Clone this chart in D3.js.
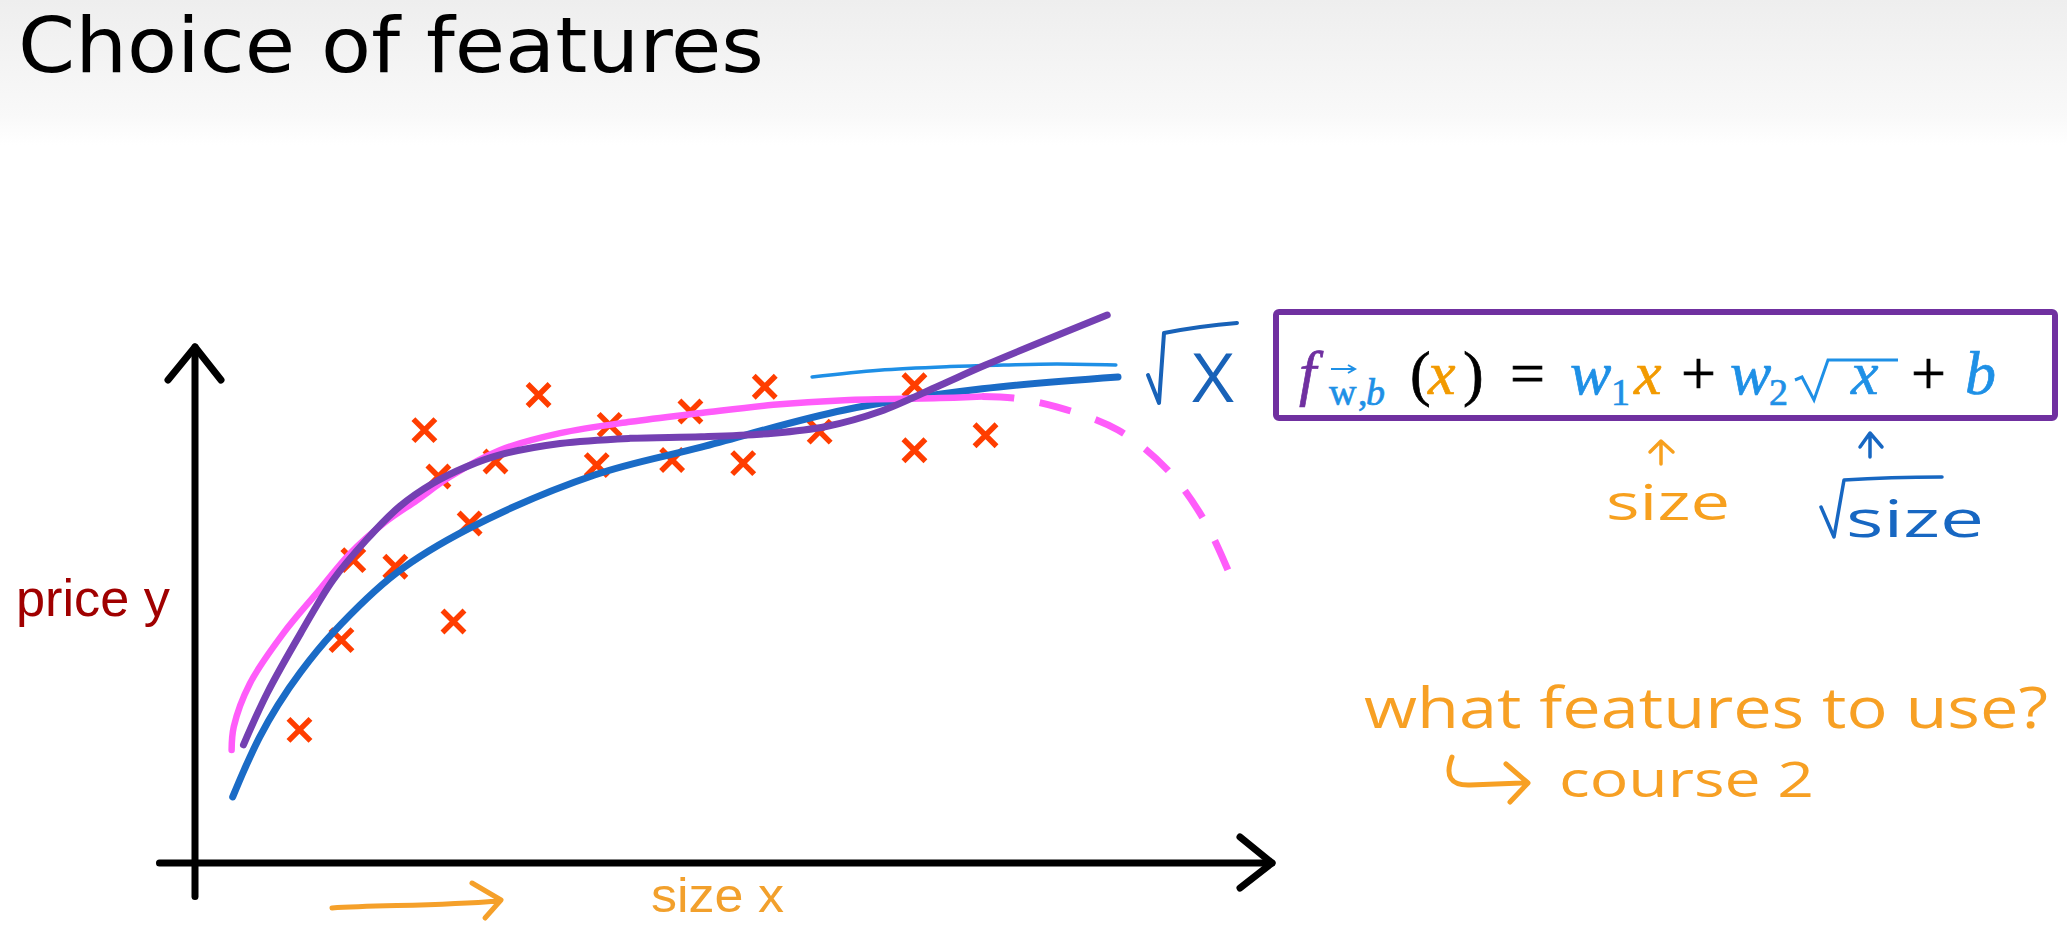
<html lang="en">
<head>
<meta charset="utf-8">
<title>Choice of features</title>
<style>
  body { margin: 0; background: #ffffff; }
  svg { display: block; }
  .hand { font-family: "Open Sans", "Noto Sans", sans-serif; }
  .math { font-family: "Liberation Serif", "DejaVu Serif", serif; }
</style>
</head>
<body>
<div id="chart"></div>
<script src="https://cdn.jsdelivr.net/npm/d3@7"></script>
<script>
// data (size x in 0..100, price y in 0..100)
var crossX = [9.7, 13.6, 14.7, 18.6, 24.0, 21.3, 22.6, 25.5, 27.9, 31.9, 37.3, 38.5, 44.3, 46.0, 50.9, 52.9, 58.0, 66.8, 66.8, 73.4];
var crossY = [25.8, 43.2, 58.7, 57.4, 46.8, 83.9, 74.9, 65.8, 77.8, 90.7, 77.1, 84.9, 78.1, 87.5, 77.5, 92.3, 83.6, 80.0, 92.6, 82.9];

// w1*x + w2*sqrt(x) + b fit (blue)
var sqrtFit = [[3.5, 12.8], [4.6, 18.2], [6.0, 24.4], [7.7, 30.6], [9.8, 37.0], [12.8, 44.6], [18.7, 56.2],
               [25.5, 64.9], [37.1, 75.2], [47.0, 80.6], [60.3, 87.8], [73.1, 91.9], [85.7, 94.2]];
// quadratic fit (pink), solid part and dashed downturn
var quadFit = [[3.4, 21.9], [3.6, 26.4], [5.1, 34.8], [8.2, 44.5], [11.3, 52.3], [14.4, 60.0], [17.5, 65.8],
               [20.6, 70.3], [23.7, 74.9], [28.3, 80.0], [33.9, 83.3], [40.4, 85.5], [47.0, 87.2], [53.7, 88.8],
               [60.3, 89.7], [69.2, 90.1], [73.1, 90.4]];
var quadDash = [[73.1, 90.4], [76.0, 90.1], [80.0, 88.4], [85.7, 83.9], [90.3, 76.2], [93.8, 66.1], [96.3, 54.8]];
// cubic fit (purple)
var cubicFit = [[4.5, 22.9], [6.7, 32.9], [9.8, 44.5], [12.8, 54.8], [15.9, 62.6], [19.0, 69.1], [22.1, 73.6],
                [25.2, 76.8], [28.3, 79.1], [33.9, 81.3], [40.4, 82.3], [47.0, 82.6], [53.7, 83.3], [58.6, 84.6],
                [63.6, 87.5], [69.2, 92.6], [73.4, 96.5], [84.7, 106.2]];
// hand drawn sqrt(x) stroke (light blue)
var sqrtStroke = [[57.3, 94.2], [63.5, 95.5], [70.1, 96.2], [75.1, 96.5], [80.0, 96.7], [85.5, 96.5]];

var width = 2067, height = 927;

var svg = d3.select("#chart").append("svg")
    .attr("width", width)
    .attr("height", height);

var defs = svg.append("defs");
var grad = defs.append("linearGradient").attr("id", "topband")
    .attr("x1", 0).attr("y1", 0).attr("x2", 0).attr("y2", 1);
grad.append("stop").attr("offset", "0%").attr("stop-color", "#eeeeee");
grad.append("stop").attr("offset", "80%").attr("stop-color", "#f9f9f9");
grad.append("stop").attr("offset", "100%").attr("stop-color", "#ffffff");

svg.append("rect").attr("width", width).attr("height", height).attr("fill", "#ffffff");
svg.append("rect").attr("width", width).attr("height", 145).attr("fill", "url(#topband)");

// title
svg.append("text")
    .attr("x", 18).attr("y", 72)
    .attr("font-family", "DejaVu Sans, Verdana, sans-serif")
    .attr("font-size", 77)
    .attr("textLength", 746)
    .attr("lengthAdjust", "spacingAndGlyphs")
    .attr("fill", "#000")
    .text("Choice of features");

var x = d3.scaleLinear().domain([0, 100]).range([195, 1272]);
var y = d3.scaleLinear().domain([0, 100]).range([863, 347]);

// axes
var axes = svg.append("g").attr("stroke", "#000").attr("stroke-width", 7).attr("fill", "none")
    .attr("stroke-linecap", "round");
axes.append("line").attr("x1", x(0)).attr("x2", x(0)).attr("y1", y(-6.5)).attr("y2", y(100));
axes.append("path").attr("stroke-linejoin", "round")
    .attr("d", "M" + (x(0) - 27) + "," + (y(100) + 33) + "L" + x(0) + "," + y(100) + "L" + (x(0) + 26) + "," + (y(100) + 33));
axes.append("line").attr("x1", x(-3.3)).attr("x2", x(100)).attr("y1", y(0)).attr("y2", y(0));
axes.append("path").attr("stroke-linejoin", "round")
    .attr("d", "M" + (x(100) - 32) + "," + (y(0) - 26) + "L" + x(100) + "," + y(0) + "L" + (x(100) - 32) + "," + (y(0) + 25));

// axis labels
svg.append("text")
    .attr("x", 16).attr("y", 616)
    .attr("font-family", "Liberation Sans Narrow, Liberation Sans, sans-serif")
    .attr("font-size", 52)
    .attr("textLength", 154).attr("lengthAdjust", "spacingAndGlyphs")
    .attr("fill", "#a00000")
    .text("price y");

svg.append("text")
    .attr("x", 651).attr("y", 912)
    .attr("font-family", "Liberation Sans Narrow, Liberation Sans, sans-serif")
    .attr("font-size", 48)
    .attr("textLength", 133).attr("lengthAdjust", "spacingAndGlyphs")
    .attr("fill", "#f2a02c")
    .text("size x");

svg.append("path")
    .attr("d", "M332,908 C380,905 440,906 497,901 M472,883 L501,900 L485,918")
    .attr("fill", "none").attr("stroke", "#f5a02a").attr("stroke-width", 5)
    .attr("stroke-linecap", "round").attr("stroke-linejoin", "round");

// fitted curves
var line = d3.line()
    .x(d => x(d[0]))
    .y(d => y(d[1]))
    .curve(d3.curveCatmullRom.alpha(0.5));

// crosses
var crosses = d3.range(crossX.length).map(i => ({ sx: crossX[i], py: crossY[i] }));
svg.append("g").selectAll("path")
    .data(crosses)
    .enter()
    .append("path")
    .attr("transform", d => "translate(" + x(d.sx) + "," + y(d.py) + ")")
    .attr("d", "M-11,-11L11,11M11,-11L-11,11")
    .attr("stroke", "#ff3d00")
    .attr("stroke-width", 5.5)
    .attr("fill", "none");

var curves = svg.append("g").attr("fill", "none").attr("stroke-linecap", "round").attr("stroke-linejoin", "round");
curves.append("path").attr("d", line(sqrtStroke)).attr("stroke", "#1e8fe6").attr("stroke-width", 3.5);
curves.append("path").attr("d", line(sqrtFit)).attr("stroke", "#1a6bc6").attr("stroke-width", 7);
curves.append("path").attr("d", line(quadFit)).attr("stroke", "#ff5cfa").attr("stroke-width", 6.5);
curves.append("path").attr("d", line(quadDash)).attr("stroke", "#ff5cfa").attr("stroke-width", 7)
    .attr("stroke-linecap", "butt").attr("stroke-dasharray", "32,26");
curves.append("path").attr("d", line(cubicFit)).attr("stroke", "#7440b2").attr("stroke-width", 7);

// sqrt(x) note next to the curves
svg.append("path")
    .attr("d", "M1148,375 L1159,403 L1164,333 Q1200,326 1237,323")
    .attr("fill", "none").attr("stroke", "#1862b8").attr("stroke-width", 4)
    .attr("stroke-linecap", "round").attr("stroke-linejoin", "round");
svg.append("text").attr("class", "hand")
    .attr("x", 1192).attr("y", 402)
    .attr("font-size", 68)
    .attr("textLength", 42).attr("lengthAdjust", "spacingAndGlyphs")
    .attr("fill", "#1862b8")
    .text("X");

// model box
svg.append("rect")
    .attr("x", 1276).attr("y", 312).attr("width", 779).attr("height", 106)
    .attr("rx", 3)
    .attr("fill", "none").attr("stroke", "#7030a0").attr("stroke-width", 6);

var purple = "#7030a0", sky = "#1e90e6", orange = "#f29a00";
var pieces = [
  { t: "f", x: 1299, c: purple, it: true },
  { t: "w", x: 1329, c: sky, it: false, sub: true },
  { t: ",", x: 1358, c: sky, it: false, sub: true },
  { t: "b", x: 1366, c: sky, it: true, sub: true },
  { t: "(", x: 1410, c: "#000", it: false },
  { t: "x", x: 1428, c: orange, it: true },
  { t: ")", x: 1463, c: "#000", it: false },
  { t: "=", x: 1510, c: "#000", it: false },
  { t: "w", x: 1570, c: sky, it: true },
  { t: "1", x: 1611, c: sky, it: false, sub: true },
  { t: "x", x: 1634, c: orange, it: true },
  { t: "+", x: 1681, c: "#000", it: false },
  { t: "w", x: 1730, c: sky, it: true },
  { t: "2", x: 1769, c: sky, it: false, sub: true },
  { t: "x", x: 1851, c: sky, it: true },
  { t: "+", x: 1911, c: "#000", it: false },
  { t: "b", x: 1965, c: sky, it: true }
];
svg.append("g").attr("class", "math").selectAll("text")
    .data(pieces)
    .enter()
    .append("text")
    .attr("x", d => d.x)
    .attr("y", d => d.sub ? 405 : 394)
    .attr("font-size", d => d.sub ? 38 : 62)
    .attr("font-style", d => d.it ? "italic" : "normal")
    .attr("fill", d => d.c)
    .attr("stroke", d => d.c)
    .attr("stroke-width", 0.7)
    .text(d => d.t);

// vector arrow over w and the radical over x
svg.append("path")
    .attr("d", "M1331,369 L1354,369 M1348,365 L1355,369 L1348,373")
    .attr("fill", "none").attr("stroke", sky).attr("stroke-width", 2);
svg.append("path")
    .attr("d", "M1795,380 L1802,377 L1814,400 L1828,360 L1898,360")
    .attr("fill", "none").attr("stroke", sky).attr("stroke-width", 3).attr("stroke-linejoin", "miter");

// notes under the box
var notes = svg.append("g").attr("fill", "none").attr("stroke-linecap", "round").attr("stroke-linejoin", "round");
notes.append("path").attr("d", "M1661,464 L1661,442 M1650,452 L1661,441 L1673,452")
    .attr("stroke", "#f7a01e").attr("stroke-width", 3.5);
notes.append("path").attr("d", "M1870,457 L1870,434 M1860,447 L1870,433 L1882,447")
    .attr("stroke", "#1767c2").attr("stroke-width", 3.5);
notes.append("path").attr("d", "M1821,507 L1834,537 L1844,480 Q1890,477 1942,477")
    .attr("stroke", "#1767c2").attr("stroke-width", 3.5);
notes.append("path").attr("d", "M1452,757 Q1441,786 1470,785 L1522,783 M1506,764 L1528,783 L1510,802")
    .attr("stroke", "#f7a024").attr("stroke-width", 5);

svg.append("text").attr("class", "hand")
    .attr("x", 1606).attr("y", 520)
    .attr("font-size", 50)
    .attr("textLength", 124).attr("lengthAdjust", "spacingAndGlyphs")
    .attr("fill", "#f7a01e")
    .text("size");
svg.append("text").attr("class", "hand")
    .attr("x", 1846).attr("y", 537)
    .attr("font-size", 52)
    .attr("textLength", 138).attr("lengthAdjust", "spacingAndGlyphs")
    .attr("fill", "#1767c2")
    .text("size");

svg.append("text").attr("class", "hand")
    .attr("x", 1364).attr("y", 728)
    .attr("font-size", 56)
    .attr("textLength", 684).attr("lengthAdjust", "spacingAndGlyphs")
    .attr("fill", "#f7a024")
    .text("what features to use?");
svg.append("text").attr("class", "hand")
    .attr("x", 1559).attr("y", 797)
    .attr("font-size", 50)
    .attr("textLength", 255).attr("lengthAdjust", "spacingAndGlyphs")
    .attr("fill", "#f7a024")
    .text("course 2");
</script>
</body>
</html>
